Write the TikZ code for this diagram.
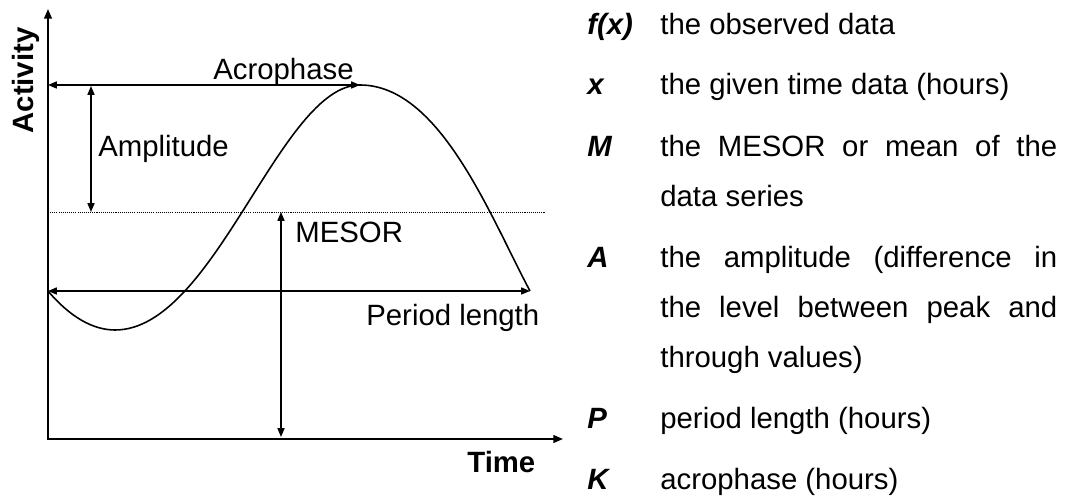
\documentclass[tikz,border=0pt]{standalone}
\usepackage{fontspec}
\setmainfont[Ligatures=NoCommon]{Liberation Sans}
\usetikzlibrary{arrows.meta}
\newcommand\legendw{7.94cm}

\begin{document}
\begin{tikzpicture}[x=0.02cm,y=-0.02cm,
    every node/.style={font=\fontsize{16.7}{19}\selectfont,inner sep=0pt},
    dimline/.style={line width=0.7pt,{Triangle[length=5pt,width=4pt]}-{Triangle[length=5pt,width=4pt]}},
    axisline/.style={line width=1.1pt,line join=miter,{Triangle[length=5.5pt,width=4.4pt]}-{Triangle[length=5.5pt,width=4.4pt]}},
    desc/.style={anchor=base west},
    sym/.style={anchor=base west,font=\fontsize{16.7}{19}\selectfont\bfseries\itshape}]
    \useasboundingbox (0,0) rectangle (1069,499);

    % Reference points
    \coordinate (O) at (48,439);
    \coordinate (ytop) at (48,9);
    \coordinate (xend) at (563,439);
    \coordinate (peak) at (360,85);
    \coordinate (trough) at (115,330);
    \coordinate (acroL) at (48,85);
    \coordinate (ampT) at (91,86);
    \coordinate (ampB) at (91,212);
    \coordinate (mesL) at (48,212);
    \coordinate (mesR) at (545,212);
    \coordinate (mesT) at (281,212);
    \coordinate (mesB) at (281,437);
    \coordinate (perL) at (48,291);
    \coordinate (perR) at (530,291);

    % Axes
    \draw[axisline] (ytop) -- (O) -- (xend);
    \node[font=\fontsize{16.7}{19}\selectfont\bfseries,rotate=90,anchor=base] (activity) at (33.5,80.5) {Activity};
    \node[font=\fontsize{16.7}{19}\selectfont\bfseries,anchor=base west] (time) at (467,473) {Time};

    % MESOR level
    \draw[line width=0.45pt,dash pattern=on 0.6pt off 0.6pt] (mesL) -- (mesR);

    % Cosinor curve
    \draw[line width=0.9pt] (perL) .. controls (70,317) and (93,330) .. (trough)
      .. controls (215,330) and (280,85) .. (peak)
      .. controls (440,85) and (490,216) .. (perR);

    % Parameters
    \draw[dimline] (acroL) -- (peak);
    \draw[dimline] (ampT) -- (ampB);
    \draw[dimline] (mesT) -- (mesB);
    \draw[dimline] (perL) -- (perR);
    \node[desc] (acro) at (213,80) {Acrophase};
    \node[desc] (ampl) at (98,157) {Amplitude};
    \node[desc] (mesor) at (295,243) {MESOR};
    \node[desc] (period) at (366,326) {Period length};

    % Legend
    \node[sym] (fx) at (587,35) {f(x)};
    \node[desc] (fxd) at (660,35) {the observed data};
    \node[sym] (xs) at (587,95) {x};
    \node[desc] (xsd) at (660,95) {the given time data (hours)};
    \node[sym] (ms) at (587,157) {M};
    \node[desc] (msd1) at (660,157) {\makebox[\legendw][s]{the MESOR or mean of the}};
    \node[desc] (msd2) at (660,207) {data series};
    \node[sym] (as) at (587,268) {A};
    \node[desc] (asd1) at (660,268) {\makebox[\legendw][s]{the amplitude (difference in}};
    \node[desc] (asd2) at (660,318) {\makebox[\legendw][s]{the level between peak and}};
    \node[desc] (asd3) at (660,368) {through values)};
    \node[sym] (ps) at (587,429) {P};
    \node[desc] (psd) at (660,429) {period length (hours)};
    \node[sym] (ks) at (587,490) {K};
    \node[desc] (ksd) at (660,490) {acrophase (hours)};
\end{tikzpicture}
\end{document}
